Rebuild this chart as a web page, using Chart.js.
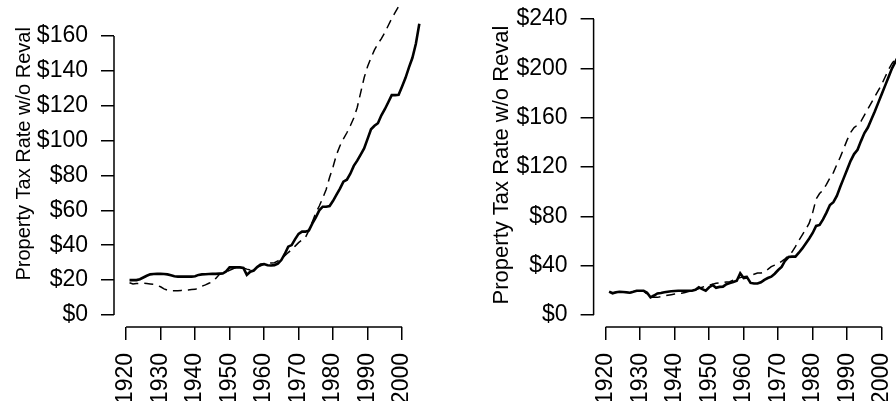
<!DOCTYPE html>
<html><head><meta charset="utf-8">
<script src="https://cdn.jsdelivr.net/npm/chart.js@4.4.0/dist/chart.umd.min.js"></script>
<style>
html,body{margin:0;padding:0;background:#fff;overflow:hidden;width:896px;height:401px;position:relative;}
#c1{position:absolute;left:0;top:0;}
#c2{position:absolute;left:478px;top:0;}
</style></head><body>
<canvas id="c1" width="448" height="401"></canvas>
<canvas id="c2" width="440" height="401"></canvas>
<script>
// Years (annual observations)
const years = [1921,1922,1923,1924,1925,1926,1927,1928,1929,1930,
  1931,1932,1933,1934,1935,1936,1937,1938,1939,1940,
  1941,1942,1943,1944,1945,1946,1947,1948,1949,1950,
  1951,1952,1953,1954,1955,1956,1957,1958,1959,1960,
  1961,1962,1963,1964,1965,1966,1967,1968,1969,1970,
  1971,1972,1973,1974,1975,1976,1977,1978,1979,1980,
  1981,1982,1983,1984,1985,1986,1987,1988,1989,1990,
  1991,1992,1993,1994,1995,1996,1997,1998,1999,2000,
  2001,2002,2003,2004,2005];

// Left panel
const leftSolid = [20,20,20,20.5,21.5,22.5,23.3,23.5,23.6,23.6,
  23.5,23.3,22.8,22.2,22,22,22,22,22,22.2,
  23,23.3,23.4,23.5,23.6,23.6,23.7,23.8,25,27.3,
  27.3,27.3,27.3,27,23,24.8,25.5,27.5,29,29.2,
  28.5,28.4,28.6,29.5,31.5,35,39.2,40.1,43.5,46.5,
  47.8,47.8,48.5,52.5,56,60,62.1,62.1,62.5,65.5,
  69,72.5,76.5,77.6,81,85.5,88.5,92,95.5,101,
  106.5,108.5,110,114.5,118,122,126.1,126.1,126.3,131,
  136,142,147.5,155.5,167];
const leftDashed = [18.5,17.8,18,18.2,18.2,18,17.8,17.6,17,16.2,
  15,14.2,13.9,13.9,13.9,14.1,14.3,14.4,14.6,14.7,
  15.5,16.5,17.3,18.2,19.1,21,23.2,24.2,24.8,25.6,
  26.5,27.3,27.1,26.9,26.3,25.8,26.5,27.3,28.2,29,
  29.6,29.8,30,31,32.5,34,35.8,37.5,39.5,41.5,
  43,44.5,48.5,53.5,58.5,62.5,67,72,79,85,
  92,97,101,104.5,108.5,113,119,127.5,136,142.5,
  147.5,152,155.5,158.5,162,166,170,173.5,177];

// Right panel
const rightSolid = [18.9,17.6,18.5,18.9,18.7,18.4,18.1,18.8,19.7,19.7,
  19.7,18,14.3,15.8,17.5,17.9,18.4,18.9,19.2,19.5,
  19.7,19.7,19.7,19.7,19.7,20.5,22.4,21,19.7,22.5,
  24.3,22,22.8,23,25,26,26.8,27.8,33.8,30,
  30.5,26,25.5,25.5,26.5,28.5,30,31.1,33.5,36.5,
  39,44,47,47.3,47.3,50.5,54,58,62,66.5,
  72.2,73,77.5,83,89.2,91.5,96.5,104,111,118,
  125,130.5,134,141,147.5,152,158.5,165,172,179,
  186,193,200,205.5,211];
const rightDashed = [18.5,18,18.3,18.5,18.5,18.3,18,18.5,19.3,19.5,
  19.3,17,14.3,14.3,14.3,14.8,15.5,16,16.5,17,
  17.4,17.6,18.3,19,19.7,20.3,21.5,22.5,23.5,24.3,
  25,25.7,26,26.3,26.7,27,28.4,29.5,30.3,31,
  31.5,32,33,34,34,35,37,39.2,40.5,41.8,
  43.5,45.5,48,51,55.5,60.5,65,69.5,74.5,83,
  94,98.5,101.4,106,111,115.5,122,128,135,142,
  148,152,154,157,162,167,172,177,182,187,
  193,199,204,207.5,213];

// Tick labels
const xTicks = [1920,1930,1940,1950,1960,1970,1980,1990,2000];
const leftYTicks = [0,20,40,60,80,100,120,140,160];
const rightYTicks = [0,40,80,120,160,200,240];
const yTitle = 'Property Tax Rate w/o Reval';

const FONT = 'Liberation Sans, Arial, Helvetica, sans-serif';
const TICK_SIZE = 23;

const rAxes = {
  id: 'rAxes',
  afterDraw(chart) {
    const {ctx, chartArea, scales: {x, y}} = chart;
    ctx.save();
    ctx.strokeStyle = '#000';
    ctx.lineWidth = 1.5;
    ctx.beginPath();
    const yt = y.ticks, xt = x.ticks;
    ctx.moveTo(chartArea.left, y.getPixelForValue(yt[0].value));
    ctx.lineTo(chartArea.left, y.getPixelForValue(yt[yt.length - 1].value));
    ctx.moveTo(x.getPixelForValue(xt[0].value), chartArea.bottom);
    ctx.lineTo(x.getPixelForValue(xt[xt.length - 1].value), chartArea.bottom);
    ctx.stroke();
    ctx.restore();
  }
};

function pts(vals) { return vals.map((v, i) => ({x: years[i], y: v})); }
function noPad(s) { s.paddingTop = 0; s.paddingBottom = 0; s.paddingLeft = 0; s.paddingRight = 0; }

function makeChart(id, solid, dashed, yTicks, ymin, ymax, yWidth, titleText, titleSize, titlePad, padRight) {
  return new Chart(document.getElementById(id), {
    type: 'line',
    data: {
      datasets: [
        {data: pts(dashed), borderColor: '#000', borderWidth: 1.5, borderDash: [9, 6], pointRadius: 0, tension: 0, fill: false},
        {data: pts(solid), borderColor: '#000', borderWidth: 2.6, pointRadius: 0, tension: 0, fill: false}
      ]
    },
    options: {
      responsive: false,
      animation: false,
      devicePixelRatio: 1,
      layout: {padding: {top: 3, left: 0, right: padRight, bottom: 0}},
      plugins: {legend: {display: false}, tooltip: {enabled: false}, title: {display: false}},
      scales: {
        x: {
          type: 'linear', min: 1916.5, max: 2008.5,
          afterBuildTicks: s => { s.ticks = xTicks.map(v => ({value: v})); },
          afterFit: s => { s.height = 74; noPad(s); },
          ticks: {autoSkip: false, minRotation: 90, maxRotation: 90, padding: 13, color: '#000',
            font: {family: FONT, size: TICK_SIZE}, callback: v => String(v)},
          grid: {drawOnChartArea: false, drawTicks: true, tickLength: 13, color: '#000', lineWidth: 1.5},
          border: {display: false}
        },
        y: {
          type: 'linear', min: ymin, max: ymax,
          afterBuildTicks: s => { s.ticks = yTicks.map(v => ({value: v})); },
          afterFit: s => { s.width = yWidth; noPad(s); },
          ticks: {padding: 13, color: '#000', font: {family: FONT, size: TICK_SIZE}, callback: v => '$' + v},
          grid: {drawOnChartArea: false, drawTicks: true, tickLength: 13, color: '#000', lineWidth: 1.5},
          border: {display: false},
          title: {display: true, text: titleText, color: '#000', font: {family: FONT, size: titleSize},
            padding: {top: titlePad, bottom: 0}}
        }
      }
    },
    plugins: [rAxes]
  });
}

makeChart('c1', leftSolid, leftDashed, leftYTicks, -6.88, 178.9, 114, '\u00A0\u00A0\u00A0\u00A0' + yTitle, 20, 12, 16.6);
makeChart('c2', rightSolid, rightDashed, rightYTicks, -9.73, 253.0, 115.6, yTitle, 22, 10.8, 7);
</script>
</body></html>
